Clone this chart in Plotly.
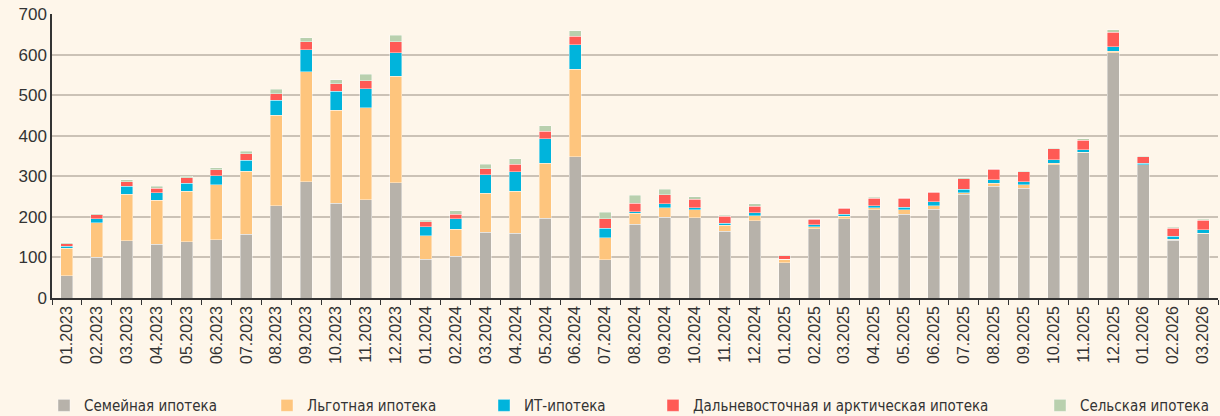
import plotly.graph_objects as go

months = ["01.2023","02.2023","03.2023","04.2023","05.2023","06.2023","07.2023","08.2023","09.2023","10.2023","11.2023","12.2023",
          "01.2024","02.2024","03.2024","04.2024","05.2024","06.2024","07.2024","08.2024","09.2024","10.2024","11.2024","12.2024",
          "01.2025","02.2025","03.2025","04.2025","05.2025","06.2025","07.2025","08.2025","09.2025","10.2025","11.2025","12.2025",
          "01.2026","02.2026","03.2026"]

family = [55,100,141,132,139,143,157,228,286,234,242,284,
          95,103,162,160,197,348,94,182,199,198,165,191,
          87,171,195,217,207,219,256,276,270,328,358,605,
          328,142,158]
preferential = [68,85,115,109,124,136,156,223,272,229,227,262,
                59,67,96,103,135,216,54,27,24,20,14,12,
                8,5,6,5,11,8,4,7,9,4,1,3,
                1,3,2]
it_mortgage = [5,10,19,19,20,22,27,36,54,46,47,58,
               22,25,46,48,60,60,24,3,9,5,5,7,
               0,4,6,6,6,10,8,8,8,9,7,11,
               3,7,8]
far_east = [6,10,11,11,13,15,15,17,20,19,20,28,
            12,12,15,19,19,21,23,22,22,21,18,16,
            9,14,14,18,22,24,26,26,24,27,23,36,
            16,20,24]
rural = [2,3,5,5,4,5,7,10,9,10,16,16,
         4,8,11,13,13,14,16,19,14,5,2,6,
         1,1,2,2,1,1,3,2,1,1,3,6,
         1,2,2]

series_names = ["Семейная ипотека", "Льготная ипотека", "ИТ-ипотека",
                "Дальневосточная и арктическая ипотека", "Сельская ипотека"]
series_values = [family, preferential, it_mortgage, far_east, rural]
colors = ["#B7B2AA", "#FEC57D", "#00B4DC", "#FF5A55", "#B9D0AE"]
legend_x_px = [44, 267, 484, 653, 1040]

W, H = 1220, 416
ml, mr, mt, mb = 52, 2, 14, 118
BG = "#FEF6EA"

fig = go.Figure()
for i, (name, vals, col) in enumerate(zip(series_names, series_values, colors)):
    lg = "legend" if i == 0 else f"legend{i+1}"
    fig.add_trace(go.Bar(
        x=months, y=vals, name=name,
        marker=dict(color=col, line=dict(color="rgba(255,255,255,0.5)", width=0.8)),
        legend=lg,
    ))

legend_font = dict(family="DejaVu Sans Condensed, Liberation Sans Narrow, sans-serif",
                   size=15, color="#333333")
layout_legends = {}
plot_w = W - ml - mr
for i, px in enumerate(legend_x_px):
    key = "legend" if i == 0 else f"legend{i+1}"
    layout_legends[key] = dict(
        x=(px - ml) / plot_w, xref="paper", xanchor="left",
        y=0.025, yref="container", yanchor="middle",
        bgcolor="rgba(0,0,0,0)", font=legend_font, itemwidth=30,
        orientation="h",
    )

fig.update_layout(
    width=W, height=H,
    barmode="stack", bargap=0.6,
    paper_bgcolor=BG, plot_bgcolor=BG,
    margin=dict(l=ml, r=mr, t=mt, b=mb),
    font=dict(family="Arial, Liberation Sans, sans-serif", size=15, color="#333333"),
    showlegend=True,
    **layout_legends,
)
fig.update_yaxes(
    range=[0, 700], dtick=100, showgrid=True, gridcolor="#CBC2B6", gridwidth=1.6,
    showline=True, linecolor="#333333", linewidth=1.5,
    ticks="", tickfont=dict(size=17, color="#333333"), zeroline=False,
)
fig.update_xaxes(
    showline=True, linecolor="#333333", linewidth=1.5,
    ticks="outside", tickson="boundaries", ticklen=5, tickcolor="#333333",
    tickangle=-90, tickfont=dict(size=16, color="#333333"),
    range=[-0.5, len(months) - 0.5],
)

fig.write_html("out.html",
               config={"displayModeBar": False},
               post_script="document.body.style.margin='0';document.body.style.background='%s';" % BG)
